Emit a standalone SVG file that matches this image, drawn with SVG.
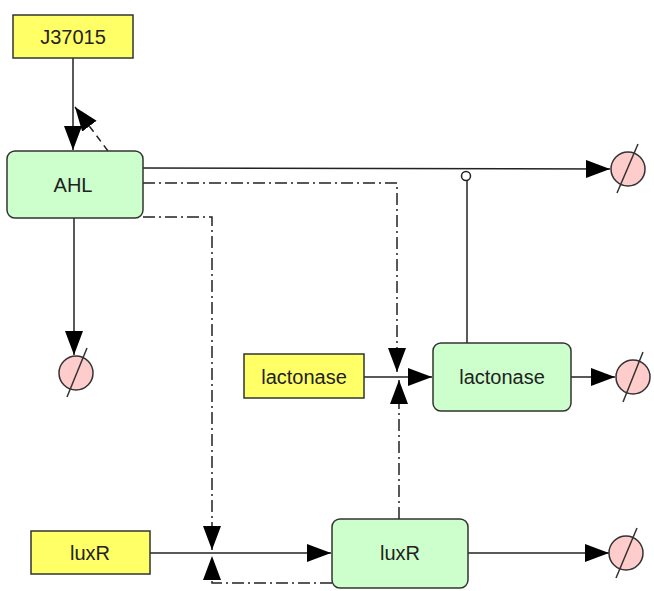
<svg xmlns="http://www.w3.org/2000/svg" width="654" height="591" viewBox="0 0 654 591">
<style>
.src{fill:#ffff66;stroke:#333;stroke-width:1.5}
.sp{fill:#ccffcc;stroke:#333;stroke-width:1.5}
.deg{fill:#ffcccc;stroke:#333;stroke-width:1.5}
.slash{stroke:#333;stroke-width:1.5}
.lbl{font-family:"Liberation Sans",Arial,sans-serif;font-size:20px;fill:#222;text-anchor:middle;dominant-baseline:central}
.e{fill:none;stroke:#222;stroke-width:1.5}
.dd{stroke-dasharray:12,4,2,4}
.ds{stroke-dasharray:7,5}
</style>
<defs>
<marker id="arr" markerUnits="userSpaceOnUse" markerWidth="26" markerHeight="20" refX="24" refY="9" orient="auto">
<path d="M0,0 L24,9 L0,18 z" fill="#000"/>
</marker>
</defs>
<g id="connectors">
<path class="e" d="M73,57 V150" marker-end="url(#arr)"/>
<path class="e ds" d="M108,151 L75,107" marker-end="url(#arr)"/>
<path class="e" d="M143,168 L610,169" marker-end="url(#arr)"/>
<path class="e" d="M74,218 V355" marker-end="url(#arr)"/>
<path class="e dd" d="M143,183 H397 V372" marker-end="url(#arr)"/>
<path class="e dd" d="M143,217 H212 V550" marker-end="url(#arr)"/>
<path class="e" d="M364,377 H432" marker-end="url(#arr)"/>
<path class="e dd" d="M399,519 V380" marker-end="url(#arr)"/>
<path class="e" d="M571,377 H615" marker-end="url(#arr)"/>
<path class="e" d="M467,343 V181"/>
<circle cx="466" cy="176" r="4.5" fill="#fff" stroke="#222" stroke-width="1.5"/>
<path class="e" d="M150,553 H331" marker-end="url(#arr)"/>
<path class="e" d="M468,553 H609" marker-end="url(#arr)"/>
<path class="e dd" d="M332,583 H212 V556" marker-end="url(#arr)"/>
</g>
<g id="J37015">
<rect class="src" x="13" y="15" width="120" height="43"/>
<text class="lbl" x="73" y="37">J37015</text>
</g>
<g id="AHL">
<rect class="sp" x="7" y="151" width="136" height="67" rx="8"/>
<text class="lbl" x="73" y="185">AHL</text>
</g>
<g id="lactonase_gene">
<rect class="src" x="244" y="354" width="120" height="44"/>
<text class="lbl" x="304" y="377">lactonase</text>
</g>
<g id="lactonase">
<rect class="sp" x="433" y="343" width="138" height="68" rx="8"/>
<text class="lbl" x="502" y="377">lactonase</text>
</g>
<g id="luxR_gene">
<rect class="src" x="31" y="531" width="119" height="43"/>
<text class="lbl" x="90" y="553">luxR</text>
</g>
<g id="luxR">
<rect class="sp" x="332" y="519" width="136" height="69" rx="8"/>
<text class="lbl" x="400" y="553">luxR</text>
</g>
<g id="deg_AHL1">
<circle class="deg" cx="628" cy="169" r="17"/>
<line class="slash" x1="617" y1="193" x2="638" y2="144"/>
</g>
<g id="deg_AHL2">
<circle class="deg" cx="76" cy="373" r="17"/>
<line class="slash" x1="67" y1="397" x2="87" y2="348"/>
</g>
<g id="deg_lactonase">
<circle class="deg" cx="633" cy="377" r="17"/>
<line class="slash" x1="623" y1="402" x2="643" y2="352"/>
</g>
<g id="deg_luxR">
<circle class="deg" cx="626" cy="553" r="17"/>
<line class="slash" x1="616" y1="578" x2="637" y2="528"/>
</g>
</svg>
